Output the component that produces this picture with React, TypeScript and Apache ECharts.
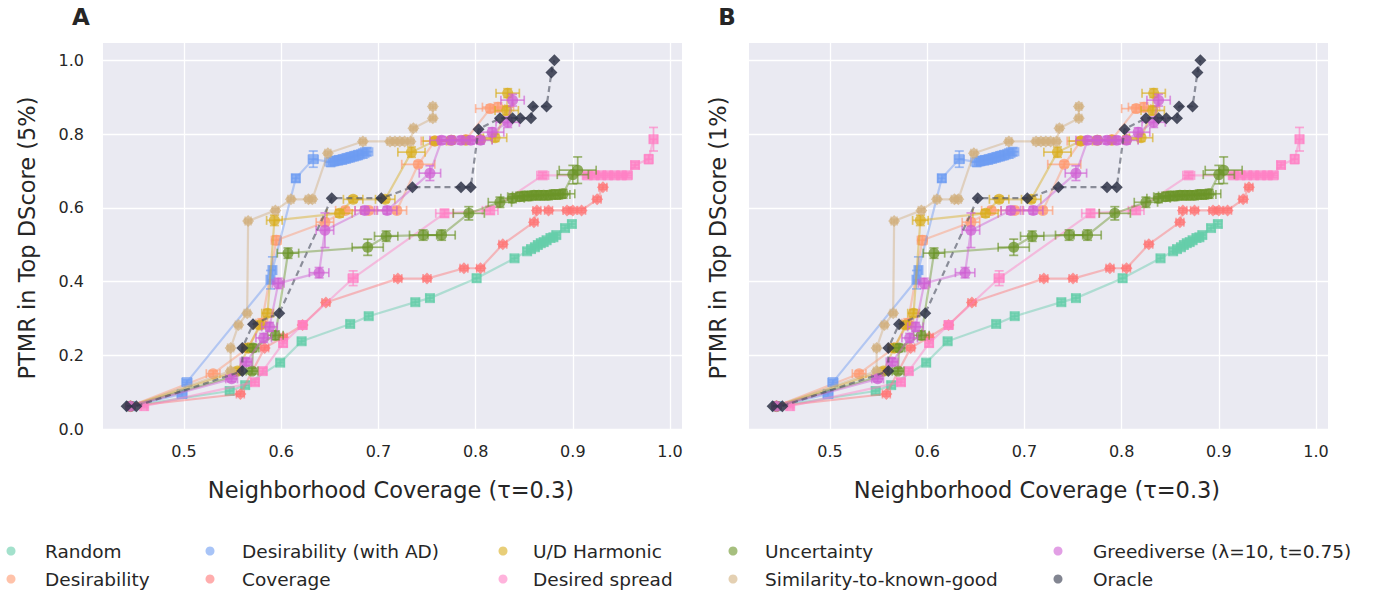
import React, { useEffect, useRef } from "react";
import * as echarts from "echarts";

// Each point: [coverage, PTMR, coverage error, PTMR error]
type Pt = [number, number, number, number];

const xTicks = [0.5, 0.6, 0.7, 0.8, 0.9, 1.0];
const yTicks = [0.0, 0.2, 0.4, 0.6, 0.8, 1.0];

const randomPts: Pt[] = [
  [0.445, 0.062, 0.003, 0.004],
  [0.547, 0.103, 0.004, 0.008],
  [0.563, 0.119, 0.004, 0.008],
  [0.599, 0.18, 0.004, 0.008],
  [0.621, 0.238, 0.004, 0.008],
  [0.671, 0.285, 0.004, 0.008],
  [0.69, 0.306, 0.004, 0.008],
  [0.738, 0.344, 0.004, 0.008],
  [0.753, 0.355, 0.004, 0.008],
  [0.801, 0.409, 0.004, 0.01],
  [0.84, 0.463, 0.004, 0.008],
  [0.853, 0.482, 0.004, 0.008],
  [0.857, 0.488, 0.004, 0.008],
  [0.861, 0.493, 0.004, 0.008],
  [0.864, 0.499, 0.004, 0.008],
  [0.867, 0.504, 0.004, 0.008],
  [0.87, 0.507, 0.004, 0.008],
  [0.873, 0.512, 0.004, 0.008],
  [0.877, 0.518, 0.004, 0.008],
  [0.88, 0.52, 0.004, 0.008],
  [0.883, 0.526, 0.004, 0.008],
  [0.892, 0.545, 0.004, 0.008],
  [0.899, 0.556, 0.004, 0.008],
];

const desirabilityPts: Pt[] = [
  [0.445, 0.062, 0.0, 0.0],
  [0.53, 0.15, 0.007, 0.008],
  [0.566, 0.22, 0.006, 0.01],
  [0.58, 0.287, 0.006, 0.012],
  [0.595, 0.512, 0.005, 0.012],
  [0.645, 0.561, 0.009, 0.01],
  [0.666, 0.593, 0.01, 0.008],
  [0.69, 0.593, 0.008, 0.008],
  [0.719, 0.593, 0.01, 0.008],
  [0.741, 0.718, 0.017, 0.008],
  [0.758, 0.781, 0.014, 0.01],
  [0.79, 0.785, 0.012, 0.01],
  [0.815, 0.869, 0.015, 0.01],
  [0.823, 0.873, 0.016, 0.012],
];

const desirabilityAdPts: Pt[] = [
  [0.445, 0.062, 0.0, 0.0],
  [0.498, 0.095, 0.005, 0.006],
  [0.503, 0.127, 0.005, 0.006],
  [0.589, 0.405, 0.003, 0.025],
  [0.591, 0.431, 0.003, 0.036],
  [0.615, 0.68, 0.004, 0.01],
  [0.633, 0.732, 0.005, 0.022],
  [0.651, 0.724, 0.006, 0.012],
  [0.655, 0.727, 0.006, 0.012],
  [0.659, 0.729, 0.006, 0.012],
  [0.663, 0.731, 0.006, 0.012],
  [0.667, 0.734, 0.006, 0.012],
  [0.671, 0.737, 0.006, 0.012],
  [0.675, 0.74, 0.006, 0.012],
  [0.679, 0.743, 0.006, 0.012],
  [0.684, 0.747, 0.006, 0.012],
  [0.688, 0.752, 0.006, 0.01],
];

const coveragePts: Pt[] = [
  [0.445, 0.062, 0.003, 0.004],
  [0.558, 0.095, 0.004, 0.006],
  [0.583, 0.22, 0.004, 0.006],
  [0.602, 0.249, 0.004, 0.006],
  [0.622, 0.282, 0.004, 0.006],
  [0.646, 0.343, 0.004, 0.006],
  [0.72, 0.408, 0.004, 0.006],
  [0.75, 0.408, 0.004, 0.006],
  [0.788, 0.436, 0.004, 0.006],
  [0.805, 0.436, 0.004, 0.006],
  [0.828, 0.501, 0.004, 0.006],
  [0.86, 0.561, 0.004, 0.006],
  [0.863, 0.593, 0.004, 0.006],
  [0.875, 0.593, 0.004, 0.006],
  [0.894, 0.593, 0.004, 0.006],
  [0.9, 0.593, 0.004, 0.006],
  [0.909, 0.593, 0.004, 0.006],
  [0.925, 0.623, 0.004, 0.006],
  [0.931, 0.656, 0.004, 0.006],
];

const udHarmonicPts: Pt[] = [
  [0.445, 0.062, 0.0, 0.0],
  [0.555, 0.157, 0.006, 0.008],
  [0.566, 0.22, 0.006, 0.01],
  [0.578, 0.282, 0.006, 0.01],
  [0.586, 0.314, 0.006, 0.01],
  [0.593, 0.566, 0.008, 0.014],
  [0.66, 0.585, 0.013, 0.01],
  [0.674, 0.623, 0.01, 0.008],
  [0.707, 0.623, 0.01, 0.008],
  [0.734, 0.751, 0.014, 0.014],
  [0.758, 0.781, 0.012, 0.008],
  [0.775, 0.783, 0.012, 0.008],
  [0.79, 0.783, 0.012, 0.008],
  [0.805, 0.785, 0.012, 0.008],
  [0.82, 0.79, 0.012, 0.01],
  [0.832, 0.864, 0.012, 0.012],
  [0.833, 0.911, 0.012, 0.012],
];

const desiredSpreadPts: Pt[] = [
  [0.459, 0.062, 0.003, 0.004],
  [0.573, 0.127, 0.004, 0.008],
  [0.581, 0.157, 0.004, 0.008],
  [0.602, 0.233, 0.004, 0.01],
  [0.622, 0.282, 0.004, 0.01],
  [0.674, 0.409, 0.005, 0.02],
  [0.768, 0.585, 0.009, 0.01],
  [0.815, 0.593, 0.008, 0.01],
  [0.869, 0.688, 0.006, 0.008],
  [0.915, 0.688, 0.005, 0.006],
  [0.922, 0.688, 0.005, 0.006],
  [0.929, 0.688, 0.005, 0.006],
  [0.936, 0.688, 0.005, 0.006],
  [0.943, 0.688, 0.005, 0.006],
  [0.95, 0.688, 0.005, 0.006],
  [0.956, 0.688, 0.005, 0.006],
  [0.964, 0.716, 0.004, 0.008],
  [0.978, 0.732, 0.004, 0.012],
  [0.983, 0.786, 0.004, 0.032],
];

const uncertaintyPts: Pt[] = [
  [0.445, 0.062, 0.0, 0.0],
  [0.57, 0.157, 0.006, 0.008],
  [0.571, 0.22, 0.006, 0.01],
  [0.594, 0.254, 0.008, 0.012],
  [0.607, 0.477, 0.011, 0.014],
  [0.689, 0.493, 0.016, 0.022],
  [0.708, 0.523, 0.012, 0.014],
  [0.746, 0.526, 0.014, 0.014],
  [0.765, 0.526, 0.014, 0.014],
  [0.793, 0.585, 0.016, 0.018],
  [0.825, 0.615, 0.012, 0.014],
  [0.838, 0.626, 0.012, 0.012],
  [0.845, 0.63, 0.012, 0.012],
  [0.85, 0.632, 0.012, 0.012],
  [0.855, 0.632, 0.012, 0.012],
  [0.86, 0.634, 0.012, 0.012],
  [0.865, 0.634, 0.012, 0.012],
  [0.87, 0.634, 0.012, 0.012],
  [0.875, 0.634, 0.012, 0.012],
  [0.88, 0.636, 0.012, 0.012],
  [0.885, 0.636, 0.012, 0.012],
  [0.89, 0.638, 0.012, 0.012],
  [0.9, 0.69, 0.016, 0.025],
  [0.905, 0.702, 0.019, 0.036],
];

const similarityPts: Pt[] = [
  [0.445, 0.062, 0.0, 0.0],
  [0.548, 0.157, 0.003, 0.005],
  [0.548, 0.22, 0.003, 0.005],
  [0.556, 0.282, 0.003, 0.005],
  [0.565, 0.314, 0.003, 0.005],
  [0.566, 0.564, 0.003, 0.005],
  [0.594, 0.593, 0.003, 0.005],
  [0.61, 0.623, 0.003, 0.005],
  [0.628, 0.623, 0.003, 0.005],
  [0.632, 0.623, 0.003, 0.005],
  [0.648, 0.748, 0.003, 0.005],
  [0.684, 0.78, 0.003, 0.005],
  [0.712, 0.78, 0.003, 0.005],
  [0.717, 0.78, 0.003, 0.005],
  [0.722, 0.78, 0.003, 0.005],
  [0.727, 0.78, 0.003, 0.005],
  [0.733, 0.78, 0.003, 0.005],
  [0.736, 0.816, 0.003, 0.005],
  [0.756, 0.843, 0.003, 0.005],
  [0.756, 0.875, 0.003, 0.005],
];

const greediversePts: Pt[] = [
  [0.445, 0.062, 0.0, 0.0],
  [0.549, 0.136, 0.006, 0.008],
  [0.564, 0.182, 0.006, 0.01],
  [0.582, 0.247, 0.008, 0.012],
  [0.588, 0.277, 0.008, 0.012],
  [0.597, 0.395, 0.006, 0.014],
  [0.639, 0.424, 0.01, 0.014],
  [0.645, 0.539, 0.009, 0.047],
  [0.686, 0.593, 0.01, 0.01],
  [0.709, 0.593, 0.01, 0.01],
  [0.753, 0.694, 0.011, 0.02],
  [0.765, 0.783, 0.012, 0.01],
  [0.775, 0.783, 0.012, 0.01],
  [0.785, 0.783, 0.012, 0.01],
  [0.795, 0.783, 0.012, 0.01],
  [0.805, 0.783, 0.012, 0.01],
  [0.817, 0.805, 0.012, 0.012],
  [0.833, 0.832, 0.012, 0.014],
  [0.838, 0.892, 0.012, 0.016],
];

const oraclePts: Pt[] = [
  [0.441, 0.062, 0.0, 0.0],
  [0.451, 0.062, 0.0, 0.0],
  [0.56, 0.157, 0.0, 0.0],
  [0.56, 0.22, 0.0, 0.0],
  [0.571, 0.284, 0.0, 0.0],
  [0.598, 0.314, 0.0, 0.0],
  [0.652, 0.626, 0.0, 0.0],
  [0.703, 0.626, 0.0, 0.0],
  [0.735, 0.656, 0.0, 0.0],
  [0.785, 0.656, 0.0, 0.0],
  [0.795, 0.656, 0.0, 0.0],
  [0.803, 0.813, 0.0, 0.0],
  [0.825, 0.843, 0.0, 0.0],
  [0.838, 0.843, 0.0, 0.0],
  [0.846, 0.843, 0.0, 0.0],
  [0.857, 0.843, 0.0, 0.0],
  [0.859, 0.875, 0.0, 0.0],
  [0.873, 0.875, 0.0, 0.0],
  [0.878, 0.967, 0.0, 0.0],
  [0.881, 1.0, 0.0, 0.0],
];

const methods = [
  { name: "Random", pts: randomPts },
  { name: "Desirability", pts: desirabilityPts },
  { name: "Desirability (with AD)", pts: desirabilityAdPts },
  { name: "Coverage", pts: coveragePts },
  { name: "U/D Harmonic", pts: udHarmonicPts },
  { name: "Desired spread", pts: desiredSpreadPts },
  { name: "Uncertainty", pts: uncertaintyPts },
  { name: "Similarity-to-known-good", pts: similarityPts },
  { name: "Greediverse (λ=10, t=0.75)", pts: greediversePts },
  { name: "Oracle", pts: oraclePts },
];

// Drawing style per method (same order as methods)
const styles = [
  { color: "#66CDAA", symbol: "rect", dashed: false },
  { color: "#FF9A70", symbol: "circle", dashed: false },
  { color: "#6E9CF2", symbol: "rect", dashed: false },
  { color: "#FF7676", symbol: "diamond", dashed: false },
  { color: "#D9AE1E", symbol: "circle", dashed: false },
  { color: "#FF80C4", symbol: "rect", dashed: false },
  { color: "#6B9428", symbol: "circle", dashed: false },
  { color: "#D2B07F", symbol: "diamond", dashed: false },
  { color: "#CF5FD3", symbol: "circle", dashed: false },
  { color: "#2E3347", symbol: "diamond", dashed: true },
];

const FONT = "DejaVu Sans";
const TXT = "#262626";

const panels = [
  { left: 103, label: "A", yTitle: "PTMR in Top DScore (5%)", showY: true, yTitleX: 27 },
  { left: 749, label: "B", yTitle: "PTMR in Top DScore (1%)", showY: false, yTitleX: 718 },
];
const GRID_TOP = 43;
const GRID_W = 579;
const GRID_H = 386;

// legend slots: dot centre x, text start x, row centre y
const legendSlots = [
  { dot: 11, text: 45, row: 551 },
  { dot: 11, text: 45, row: 579 },
  { dot: 210, text: 242, row: 551 },
  { dot: 210, text: 242, row: 579 },
  { dot: 503, text: 533, row: 551 },
  { dot: 503, text: 533, row: 579 },
  { dot: 733, text: 765, row: 551 },
  { dot: 733, text: 765, row: 579 },
  { dot: 1058, text: 1093, row: 551 },
  { dot: 1058, text: 1093, row: 579 },
];

function errorRenderer(color: string) {
  return (params: any, api: any) => {
    const x = api.value(0);
    const y = api.value(1);
    const xe = api.value(2);
    const ye = api.value(3);
    const children: any[] = [];
    const style = { stroke: color, lineWidth: 1.7, opacity: 0.65 };
    const cap = 4.5;
    if (xe > 0) {
      const l = api.coord([x - xe, y]);
      const r = api.coord([x + xe, y]);
      children.push({ type: "line", shape: { x1: l[0], y1: l[1], x2: r[0], y2: r[1] }, style });
      children.push({ type: "line", shape: { x1: l[0], y1: l[1] - cap, x2: l[0], y2: l[1] + cap }, style });
      children.push({ type: "line", shape: { x1: r[0], y1: r[1] - cap, x2: r[0], y2: r[1] + cap }, style });
    }
    if (ye > 0) {
      const t = api.coord([x, y + ye]);
      const b = api.coord([x, y - ye]);
      children.push({ type: "line", shape: { x1: t[0], y1: t[1], x2: b[0], y2: b[1] }, style });
      children.push({ type: "line", shape: { x1: t[0] - cap, y1: t[1], x2: t[0] + cap, y2: t[1] }, style });
      children.push({ type: "line", shape: { x1: b[0] - cap, y1: b[1], x2: b[0] + cap, y2: b[1] }, style });
    }
    return { type: "group", children };
  };
}

function buildOption() {
  const grid = panels.map((p) => ({
    left: p.left,
    top: GRID_TOP,
    width: GRID_W,
    height: GRID_H,
    show: true,
    backgroundColor: "#EAEAF2",
    borderWidth: 0,
  }));

  const xAxis = panels.map((_, i) => ({
    type: "value",
    gridIndex: i,
    min: 0.4167,
    max: 1.0123,
    axisLine: { show: false },
    axisTick: { show: false, customValues: xTicks },
    axisLabel: {
      customValues: xTicks,
      formatter: (v: number) => v.toFixed(1),
      color: TXT,
      fontSize: 16,
      fontFamily: FONT,
      margin: 14,
    },
    splitLine: { show: true, lineStyle: { color: "#FFFFFF", width: 1.3 } },
  }));

  const yAxis = panels.map((p, i) => ({
    type: "value",
    gridIndex: i,
    min: 0,
    max: 1.047,
    axisLine: { show: false },
    axisTick: { show: false, customValues: yTicks },
    axisLabel: {
      show: p.showY,
      customValues: yTicks,
      formatter: (v: number) => v.toFixed(1),
      color: TXT,
      fontSize: 16,
      fontFamily: FONT,
      margin: 19,
    },
    splitLine: { show: true, lineStyle: { color: "#FFFFFF", width: 1.3 } },
  }));

  const series: any[] = [];
  panels.forEach((_, pi) => {
    methods.forEach((m, mi) => {
      const st = styles[mi];
      series.push({
        type: "custom",
        name: m.name + " error",
        xAxisIndex: pi,
        yAxisIndex: pi,
        z: 2 + mi,
        silent: true,
        renderItem: errorRenderer(st.color),
        data: m.pts,
      });
      series.push({
        type: "line",
        name: m.name,
        xAxisIndex: pi,
        yAxisIndex: pi,
        z: 2 + mi,
        data: m.pts.map((p) => [p[0], p[1]]),
        symbol: st.symbol,
        symbolSize: st.symbol === "diamond" ? 12 : st.symbol === "rect" ? 10 : 11,
        showAllSymbol: true,
        itemStyle: { color: st.color, opacity: st.dashed ? 0.85 : 0.75 },
        lineStyle: st.dashed
          ? { color: "#4A4E5E", width: 2.2, type: [6, 4], opacity: 0.6 }
          : { color: st.color, width: 2.2, opacity: 0.45 },
      });
    });
  });

  // one legend block per entry so the ten items sit in a 5 x 2 layout
  const legend = methods.map((m, i) => {
    const s = legendSlots[i];
    return {
      orient: "vertical",
      left: s.dot - 4.5,
      top: s.row - 11,
      padding: 0,
      itemWidth: 9,
      itemHeight: 9,
      icon: "circle",
      selectedMode: false,
      textStyle: {
        color: TXT,
        fontSize: 18.5,
        fontFamily: FONT,
        lineHeight: 22,
        padding: [0, 0, 0, s.text - (s.dot + 4.5 + 5)],
      },
      data: [{ name: m.name, itemStyle: { color: styles[i].color, opacity: 0.6 } }],
    };
  });

  const graphic: any[] = [];
  panels.forEach((p) => {
    graphic.push({
      type: "text",
      x: p.left - 22,
      y: 17,
      style: {
        text: p.label,
        fontSize: 23,
        fontWeight: "bold",
        fontFamily: FONT,
        fill: TXT,
        textAlign: "center",
        textVerticalAlign: "middle",
      },
    });
    graphic.push({
      type: "text",
      x: p.left + 288,
      y: 490,
      style: {
        text: "Neighborhood Coverage (τ=0.3)",
        fontSize: 22.5,
        fontFamily: FONT,
        fill: TXT,
        textAlign: "center",
        textVerticalAlign: "middle",
      },
    });
    graphic.push({
      type: "text",
      x: p.yTitleX,
      y: 238,
      rotation: Math.PI / 2,
      style: {
        text: p.yTitle,
        fontSize: 22.5,
        fontFamily: FONT,
        fill: TXT,
        textAlign: "center",
        textVerticalAlign: "middle",
      },
    });
  });

  return {
    animation: false,
    backgroundColor: "#FFFFFF",
    textStyle: { fontFamily: FONT },
    grid,
    xAxis,
    yAxis,
    legend,
    graphic,
    series,
  };
}

export default function App() {
  const ref = useRef<HTMLDivElement>(null);
  useEffect(() => {
    if (!ref.current) return;
    const chart = echarts.init(ref.current, undefined, { renderer: "svg" });
    chart.setOption(buildOption() as any);
    return () => chart.dispose();
  }, []);
  return (
    <div
      ref={ref}
      style={{ position: "fixed", left: 0, top: 0, width: 1374, height: 596 }}
    />
  );
}
